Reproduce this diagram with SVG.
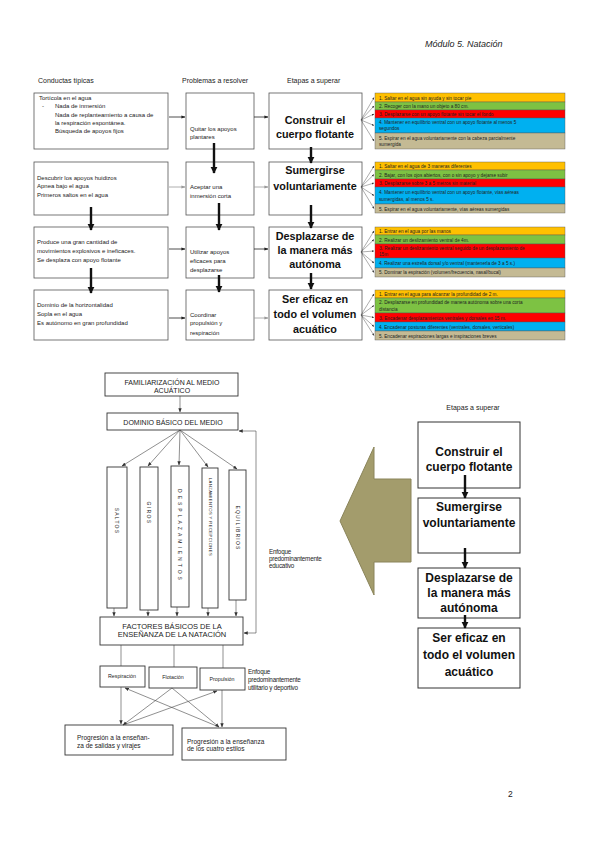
<svg xmlns="http://www.w3.org/2000/svg" width="599" height="848" viewBox="0 0 599 848">
<defs>
<style>
.t{font-family:"Liberation Sans",Arial,sans-serif;fill:#222}
.hd{font-size:7px}
.lt{font-size:6px}
.st{font-family:"Liberation Sans",Arial,sans-serif;font-weight:bold;fill:#111;text-anchor:middle}
.li{font-family:"Liberation Sans",Arial,sans-serif;font-size:4.7px;fill:#222}
.box{fill:#fff;stroke:#555;stroke-width:0.8}
.rbox{fill:#fff;stroke:#333;stroke-width:1}
.thick{stroke:#111;stroke-width:2.4;fill:none;marker-end:url(#th)}
.thin{stroke:#222;stroke-width:0.8;fill:none;marker-end:url(#tn)}
.gray{stroke:#999;stroke-width:0.8;fill:none;marker-end:url(#tg)}
.fan{stroke:#333;stroke-width:0.4;fill:none;marker-end:url(#tf)}
.c1{fill:#FFC000;stroke:#555;stroke-width:0.4}
.c2{fill:#7DC243;stroke:#555;stroke-width:0.4}
.c3{fill:#FF0000;stroke:#555;stroke-width:0.4}
.c4{fill:#00B0F0;stroke:#555;stroke-width:0.4}
.c5{fill:#C4BA94;stroke:#555;stroke-width:0.4}
.sb{fill:#fff;stroke:#333;stroke-width:0.9}
.sl{stroke:#444;stroke-width:0.6;fill:none}
.sa{stroke:#444;stroke-width:0.6;fill:none;marker-end:url(#sa)}
.sx{font-family:"Liberation Sans",Arial,sans-serif;fill:#222;text-anchor:middle}
</style>
<marker id="th" viewBox="0 0 10 10" refX="9" refY="5" markerWidth="3" markerHeight="3" orient="auto" markerUnits="strokeWidth"><path d="M0,0 L10,5 L0,10 z" fill="#111"/></marker>
<marker id="tn" viewBox="0 0 10 10" refX="9" refY="5" markerWidth="5" markerHeight="5" orient="auto" markerUnits="strokeWidth"><path d="M0,1 L10,5 L0,9 z" fill="#222"/></marker>
<marker id="tg" viewBox="0 0 10 10" refX="9" refY="5" markerWidth="5" markerHeight="5" orient="auto" markerUnits="strokeWidth"><path d="M0,1 L10,5 L0,9 z" fill="#999"/></marker>
<marker id="tf" viewBox="0 0 10 10" refX="9" refY="5" markerWidth="6" markerHeight="6" orient="auto" markerUnits="strokeWidth"><path d="M0,1 L10,5 L0,9 z" fill="#333"/></marker>
<marker id="sa" viewBox="0 0 10 10" refX="9" refY="5" markerWidth="7" markerHeight="7" orient="auto" markerUnits="strokeWidth"><path d="M0,1 L10,5 L0,9 z" fill="#333"/></marker>
</defs>
<rect width="599" height="848" fill="#fff"/>

<text class="t" x="425" y="47" font-size="9" font-style="italic" fill="#333">Módulo 5. Natación</text>

<g id="headers">
<text class="t hd" x="38" y="83">Conductas típicas</text>
<text class="t hd" x="182" y="83">Problemas a resolver</text>
<text class="t hd" x="287" y="83">Etapas a superar</text>
</g>

<!-- Left column -->
<g id="conducta1">
<rect class="box" x="34" y="93" width="134" height="56"/>
<text class="t lt" x="39" y="100">Tortícola en el agua</text>
<text class="t lt" x="42" y="108">-</text>
<text class="t lt" x="55" y="108">Nada de inmersión</text>
<text class="t lt" x="55" y="117">Nada de replanteamiento a causa de</text>
<text class="t lt" x="55" y="125">la respiración espontánea.</text>
<text class="t lt" x="55" y="133">Búsqueda de apoyos fijos</text>
</g>
<g id="conducta2">
<rect class="box" x="34" y="162" width="134" height="53"/>
<text class="t lt" x="37" y="180">Descubrir los apoyos huidizos</text>
<text class="t lt" x="37" y="188">Apnea bajo el agua</text>
<text class="t lt" x="37" y="197">Primeros saltos en el agua</text>
</g>
<g id="conducta3">
<rect class="box" x="34" y="227" width="134" height="51"/>
<text class="t lt" x="37" y="244">Produce una gran cantidad de</text>
<text class="t lt" x="37" y="253">movimientos explosivos e ineficaces.</text>
<text class="t lt" x="37" y="262">Se desplaza con apoyo flotante</text>
</g>
<g id="conducta4">
<rect class="box" x="34" y="290" width="134" height="50"/>
<text class="t lt" x="37" y="307">Dominio de la horizontalidad</text>
<text class="t lt" x="37" y="316">Sopla en el agua</text>
<text class="t lt" x="37" y="325">Es autónomo en gran profundidad</text>
</g>

<!-- Middle column -->
<g id="problema1">
<rect class="box" x="186" y="93" width="68" height="56"/>
<text class="t lt" x="190" y="131">Quitar los apoyos</text>
<text class="t lt" x="190" y="139">plantares</text>
</g>
<g id="problema2">
<rect class="box" x="186" y="162" width="68" height="53"/>
<text class="t lt" x="190" y="189">Aceptar una</text>
<text class="t lt" x="190" y="198">inmersión corta</text>
</g>
<g id="problema3">
<rect class="box" x="186" y="227" width="68" height="51"/>
<text class="t lt" x="190" y="254">Utilizar apoyos</text>
<text class="t lt" x="190" y="263">eficaces para</text>
<text class="t lt" x="190" y="272">desplazarse</text>
</g>
<g id="problema4">
<rect class="box" x="186" y="290" width="68" height="50"/>
<text class="t lt" x="190" y="317">Coordinar</text>
<text class="t lt" x="190" y="325">propulsión y</text>
<text class="t lt" x="190" y="335">respiración</text>
</g>

<!-- Right column -->
<g id="etapa1">
<rect class="box" x="269" y="93" width="93" height="56"/>
<text class="st" x="315" y="124" font-size="10.8">Construir el</text>
<text class="st" x="315" y="138" font-size="10.8">cuerpo flotante</text>
</g>
<g id="etapa2">
<rect class="box" x="269" y="162" width="93" height="53"/>
<text class="st" x="315" y="174" font-size="10.8">Sumergirse</text>
<text class="st" x="315" y="190" font-size="10.8">voluntariamente</text>
</g>
<g id="etapa3">
<rect class="box" x="269" y="227" width="93" height="51"/>
<text class="st" x="315" y="240" font-size="10.8">Desplazarse de</text>
<text class="st" x="315" y="254" font-size="10.8">la manera más</text>
<text class="st" x="315" y="268" font-size="10.8">autónoma</text>
</g>
<g id="etapa4">
<rect class="box" x="269" y="290" width="93" height="50"/>
<text class="st" x="315" y="303" font-size="10.8">Ser eficaz en</text>
<text class="st" x="315" y="318" font-size="10.8">todo el volumen</text>
<text class="st" x="315" y="333" font-size="10.8">acuático</text>
</g>

<!-- Colored lists -->
<g id="lista1">
<rect class="c1" x="375" y="93" width="190" height="9"/>
<rect class="c2" x="375" y="102" width="190" height="8"/>
<rect class="c3" x="375" y="110" width="190" height="8"/>
<rect class="c4" x="375" y="118" width="190" height="15"/>
<rect class="c5" x="375" y="133" width="190" height="16"/>
<text class="li" x="379" y="99.5">1. Saltar en el agua sin ayuda y sin tocar pie</text>
<text class="li" x="379" y="107.8">2. Recoger con la mano un objeto a 80 cm.</text>
<text class="li" x="379" y="115.8">3. Desplazarse con un apoyo flotante sin tocar el fondo</text>
<text class="li" x="379" y="124">4. Mantener en equilibrio ventral con un apoyo flotante al menos 5</text>
<text class="li" x="379" y="130">segundos</text>
<text class="li" x="379" y="139.5">5. Espirar en el agua voluntariamente con la cabeza parcialmente</text>
<text class="li" x="379" y="146">sumergida</text>
</g>
<g id="lista2">
<rect class="c1" x="375" y="162" width="190" height="8"/>
<rect class="c2" x="375" y="170" width="190" height="9"/>
<rect class="c3" x="375" y="179" width="190" height="8"/>
<rect class="c4" x="375" y="187" width="190" height="17"/>
<rect class="c5" x="375" y="204" width="190" height="9"/>
<text class="li" x="379" y="168">1. Saltar en el agua de 3 maneras diferentes</text>
<text class="li" x="379" y="176.5">2. Bajar, con los ojos abiertos, con o sin apoyo y dejarse subir</text>
<text class="li" x="379" y="185">3. Desplazarse sobre 3 a 5 metros sin material</text>
<text class="li" x="379" y="194">4. Mantener un equilibrio ventral con un apoyo flotante, vías aéreas</text>
<text class="li" x="379" y="201">sumergidas, al menos 5 s.</text>
<text class="li" x="379" y="210.5">5. Espirar en el agua voluntariamente, vías aéreas sumergidas</text>
</g>
<g id="lista3">
<rect class="c1" x="375" y="227" width="190" height="8"/>
<rect class="c2" x="375" y="235" width="190" height="9"/>
<rect class="c3" x="375" y="244" width="190" height="14"/>
<rect class="c4" x="375" y="258" width="190" height="10"/>
<rect class="c5" x="375" y="268" width="190" height="9"/>
<text class="li" x="379" y="233">1. Entrar en el agua por las manos</text>
<text class="li" x="379" y="241.5">2. Realizar un deslizamiento ventral de 4m.</text>
<text class="li" x="379" y="250">3. Realizar un deslizamiento ventral seguido de un desplazamiento de</text>
<text class="li" x="379" y="256">15m</text>
<text class="li" x="379" y="264.8">4. Realizar una estrella dorsal y/o ventral (mantenerla de 3 a 5 s.)</text>
<text class="li" x="379" y="274.3">5. Dominar la espiración (volumen/frecuencia, nasal/bucal)</text>
</g>
<g id="lista4">
<rect class="c1" x="375" y="290" width="190" height="8"/>
<rect class="c2" x="375" y="298" width="190" height="15"/>
<rect class="c3" x="375" y="313" width="190" height="9"/>
<rect class="c4" x="375" y="322" width="190" height="9"/>
<rect class="c5" x="375" y="331" width="190" height="9"/>
<text class="li" x="379" y="296">1. Entrar en el agua para alcanzar la profundidad de 2 m.</text>
<text class="li" x="379" y="304">2. Desplazarse en profundidad de manera autónoma sobre una corta</text>
<text class="li" x="379" y="310.5">distancia</text>
<text class="li" x="379" y="319.5">3. Encadenar desplazamientos ventrales y dorsales en 15 m.</text>
<text class="li" x="379" y="328.5">4. Encadenar posturas diferentes (ventrales, dorsales, verticales)</text>
<text class="li" x="379" y="337.5">5. Encadenar espiraciones largas e inspiraciones breves</text>
</g>

<g id="connectors-top">
<line class="thin" x1="169" y1="117" x2="185" y2="117"/>
<line class="thin" x1="254" y1="117" x2="268" y2="117"/>
<line class="gray" x1="169" y1="187" x2="185" y2="187"/>
<line class="gray" x1="254" y1="187" x2="268" y2="187"/>
<line class="thin" x1="169" y1="249" x2="185" y2="249"/>
<line class="thin" x1="254" y1="249" x2="268" y2="249"/>
<line class="thin" x1="169" y1="318" x2="185" y2="318"/>
<line class="gray" x1="254" y1="318" x2="268" y2="318"/>
<line class="thick" x1="214" y1="143" x2="214" y2="173"/>
<line class="thick" x1="219" y1="203" x2="219" y2="230"/>
<line class="thick" x1="219" y1="275" x2="219" y2="292"/>
<line class="thick" x1="91" y1="207" x2="91" y2="230"/>
<line class="thick" x1="91" y1="268" x2="91" y2="293"/>
<line class="thick" x1="311" y1="147" x2="311" y2="163"/>
<line class="thick" x1="311" y1="205" x2="311" y2="228"/>
<line class="thick" x1="311" y1="273" x2="311" y2="289"/>
<path class="fan" d="M361,120 L374,97.5"/><path class="fan" d="M361,120 L374,106"/><path class="fan" d="M361,120 L374,114"/><path class="fan" d="M361,120 L374,125.5"/><path class="fan" d="M361,120 L374,141"/>
<path class="fan" d="M361,187 L374,166"/><path class="fan" d="M361,187 L374,174.5"/><path class="fan" d="M361,187 L374,183"/><path class="fan" d="M361,187 L374,195.5"/><path class="fan" d="M361,187 L374,208.5"/>
<path class="fan" d="M361,252 L374,231"/><path class="fan" d="M361,252 L374,239.5"/><path class="fan" d="M361,252 L374,251"/><path class="fan" d="M361,252 L374,263"/><path class="fan" d="M361,252 L374,272.5"/>
<path class="fan" d="M361,315 L374,294"/><path class="fan" d="M361,315 L374,305.5"/><path class="fan" d="M361,315 L374,317.5"/><path class="fan" d="M361,315 L374,326.5"/><path class="fan" d="M361,315 L374,335.5"/>
</g>

<!-- Bottom-left scanned figure -->
<g id="familiarizacion">
<rect class="sb" x="105" y="373" width="133" height="23"/>
<text class="sx" x="172" y="385" font-size="7">FAMILIARIZACIÓN AL MEDIO</text>
<text class="sx" x="172" y="393" font-size="7">ACUÁTICO</text>
</g>
<g id="dominio">
<rect class="sb" x="107" y="413" width="131" height="17"/>
<text class="sx" x="173" y="424.5" font-size="7">DOMINIO BÁSICO DEL MEDIO</text>
</g>
<g id="saltos">
<rect class="sb" x="107" y="467" width="20" height="141"/>
<text class="sx" transform="translate(115,521) rotate(90)" font-size="5" letter-spacing="1.2">SALTOS</text>
</g>
<g id="giros">
<rect class="sb" x="140" y="467" width="18" height="143"/>
<text class="sx" transform="translate(147,513) rotate(90)" font-size="5" letter-spacing="1.4">GIROS</text>
</g>
<g id="desplazamientos">
<rect class="sb" x="171" y="466" width="18" height="141"/>
<text class="sx" transform="translate(178,536) rotate(90)" font-size="5" letter-spacing="3">DESPLAZAMIENTOS</text>
</g>
<g id="lanzamientos">
<rect class="sb" x="202" y="468" width="16" height="140"/>
<text class="sx" transform="translate(208.5,517) rotate(90)" font-size="4.2" letter-spacing="0.4">LANZAMIENTOS Y RECEPCIONES</text>
</g>
<g id="equilibrios">
<rect class="sb" x="229" y="470" width="17" height="130"/>
<text class="sx" transform="translate(236,528) rotate(90)" font-size="5" letter-spacing="1.2">EQUILIBRIOS</text>
</g>
<g id="enfoque-educativo">
<text class="t" x="269" y="554" font-size="6.3" letter-spacing="-0.2">Enfoque</text>
<text class="t" x="269" y="561" font-size="6.3" letter-spacing="-0.2">predominantemente</text>
<text class="t" x="269" y="568" font-size="6.3" letter-spacing="-0.2">educativo</text>
</g>
<g id="factores">
<rect class="sb" x="100" y="617" width="143" height="28"/>
<text class="sx" x="172" y="629" font-size="7.5">FACTORES BÁSICOS DE LA</text>
<text class="sx" x="172" y="637" font-size="7.5">ENSEÑANZA DE LA NATACIÓN</text>
</g>
<g id="respiracion">
<rect class="sb" x="100" y="666" width="45" height="21"/>
<text class="sx" x="122" y="678" font-size="5.3">Respiración</text>
</g>
<g id="flotacion">
<rect class="sb" x="149" y="667" width="48" height="21"/>
<text class="sx" x="173" y="679" font-size="5.3">Flotación</text>
</g>
<g id="propulsion">
<rect class="sb" x="200" y="668" width="45" height="22"/>
<text class="sx" x="222" y="681" font-size="5.3">Propulsión</text>
</g>
<g id="enfoque-utilitario">
<text class="t" x="248" y="674" font-size="6.3" letter-spacing="-0.2">Enfoque</text>
<text class="t" x="248" y="682" font-size="6.3" letter-spacing="-0.2">predominantemente</text>
<text class="t" x="248" y="690" font-size="6.3" letter-spacing="-0.2">utilitario y deportivo</text>
</g>
<g id="progresion-salidas">
<rect class="sb" x="65" y="725" width="108" height="30"/>
<text class="t" x="77" y="740" font-size="6.5">Progresión a la enseñan-</text>
<text class="t" x="77" y="748" font-size="6.5">za de salidas y virajes</text>
</g>
<g id="progresion-estilos">
<rect class="sb" x="182" y="728" width="104" height="32"/>
<text class="t" x="187" y="744" font-size="6.5">Progresión a la enseñanza</text>
<text class="t" x="187" y="751" font-size="6.5">de los cuatro estilos</text>
</g>
<g id="connectors-figure">
<line class="sa" x1="180" y1="396" x2="180" y2="412"/>
<line class="sa" x1="180" y1="430" x2="122" y2="466"/>
<line class="sa" x1="180" y1="430" x2="148" y2="466"/>
<line class="sa" x1="180" y1="430" x2="179" y2="465"/>
<line class="sa" x1="180" y1="430" x2="208" y2="467"/>
<line class="sa" x1="180" y1="430" x2="237" y2="469"/>
<line class="sa" x1="114" y1="608" x2="114" y2="616"/>
<line class="sa" x1="148" y1="610" x2="148" y2="616"/>
<line class="sa" x1="177" y1="607" x2="177" y2="616"/>
<line class="sa" x1="208" y1="608" x2="208" y2="616"/>
<line class="sa" x1="236" y1="600" x2="236" y2="616"/>
<path class="sl" d="M256,633 L256,431"/>
<line class="sa" x1="256" y1="431" x2="239" y2="431"/>
<line class="sa" x1="256" y1="633" x2="244" y2="633"/>
<line class="sl" x1="121" y1="645" x2="121" y2="666"/>
<line class="sl" x1="174" y1="645" x2="174" y2="667"/>
<line class="sl" x1="223" y1="645" x2="223" y2="668"/>
<line class="sa" x1="121" y1="687" x2="121" y2="724"/>
<line class="sa" x1="222" y1="690" x2="222" y2="727"/>
<line class="sa" x1="172" y1="688" x2="123" y2="725"/>
<line class="sa" x1="172" y1="688" x2="219" y2="727"/>
<line class="sa" x1="219" y1="727" x2="125" y2="688"/>
<line class="sa" x1="123" y1="725" x2="217" y2="691"/>
</g>

<!-- Big arrow -->
<path id="big-arrow" d="M340,521 L374,447 L374,479 L411,479 L411,562 L374,562 L374,595 Z" fill="#A39C6C" stroke="#8A845A" stroke-width="1"/>

<!-- Right panel -->
<text class="t" x="473" y="410" font-size="7" text-anchor="middle">Etapas a superar</text>
<g id="etapa-r1">
<rect class="rbox" x="418" y="422" width="102" height="66"/>
<text class="st" x="469" y="456" font-size="12">Construir el</text>
<text class="st" x="469" y="471" font-size="12">cuerpo flotante</text>
</g>
<g id="etapa-r2">
<rect class="rbox" x="418" y="498" width="102" height="55"/>
<text class="st" x="469" y="511" font-size="12">Sumergirse</text>
<text class="st" x="469" y="527" font-size="12">voluntariamente</text>
</g>
<g id="etapa-r3">
<rect class="rbox" x="418" y="568" width="102" height="50"/>
<text class="st" x="469" y="582" font-size="12">Desplazarse de</text>
<text class="st" x="469" y="597" font-size="12">la manera más</text>
<text class="st" x="469" y="612" font-size="12">autónoma</text>
</g>
<g id="etapa-r4">
<rect class="rbox" x="418" y="628" width="102" height="60"/>
<text class="st" x="469" y="642" font-size="12">Ser eficaz en</text>
<text class="st" x="469" y="659" font-size="12">todo el volumen</text>
<text class="st" x="469" y="676" font-size="12">acuático</text>
</g>
<g id="connectors-right">
<line class="thick" x1="465" y1="475" x2="465" y2="498"/>
<line class="thick" x1="465" y1="548" x2="465" y2="568"/>
<line class="thick" x1="465" y1="615" x2="465" y2="628"/>
</g>

<text class="t" x="508" y="797" font-size="8.5" fill="#333">2</text>
</svg>
